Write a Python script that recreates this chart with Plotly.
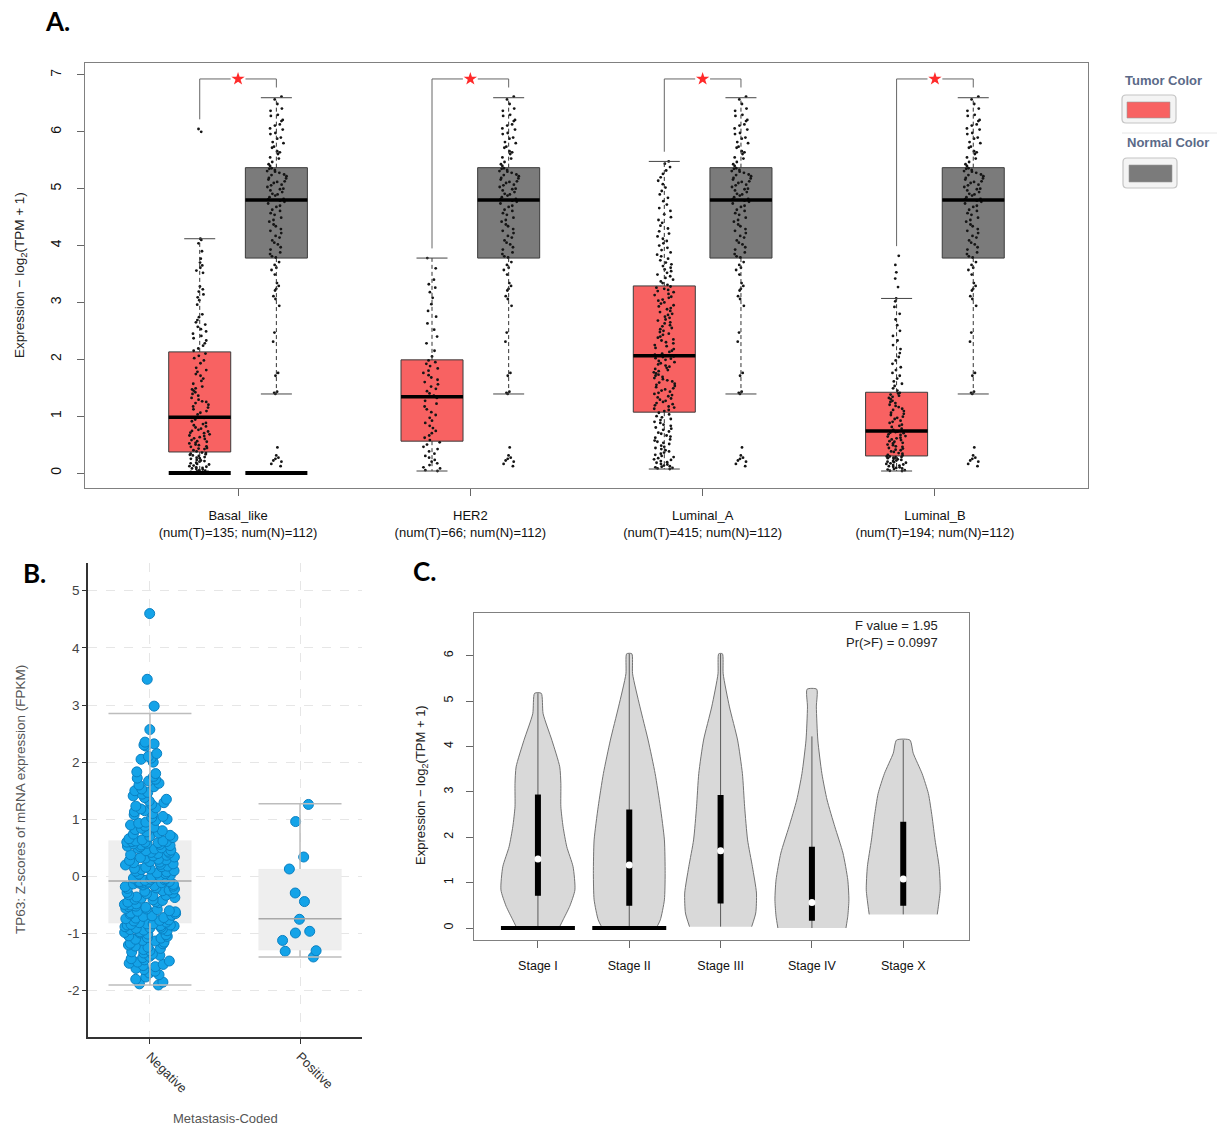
import plotly.graph_objects as go

W, H = 1217, 1126
FONT = "Liberation Sans, Arial, Helvetica, sans-serif"

# ---------------- Panel A data (GEPIA box plot) ----------------
subtypes = ["Basal_like", "HER2", "Luminal_A", "Luminal_B"]
num_tumor = [135, 66, 415, 194]
num_normal = [112, 112, 112, 112]
tumor_q1 = [0.37, 0.56, 1.07, 0.30]
tumor_median = [0.98, 1.34, 2.06, 0.74]
tumor_q3 = [2.13, 1.99, 3.29, 1.42]
tumor_whisker_low = [0.00, 0.035, 0.07, 0.035]
tumor_whisker_high = [4.12, 3.78, 5.48, 3.07]
normal_q1 = 3.78
normal_median = 4.80
normal_q3 = 5.37
normal_whisker_low = 1.39
normal_whisker_high = 6.60
zero_bar_subtypes = ["Basal_like"]
significant = ["*", "*", "*", "*"]

basal_tumor = [0.00, 0.01, 0.02, 0.02, 0.03, 0.04, 0.05, 0.06, 0.07, 0.08, 0.09, 0.10, 0.11, 0.12,
               0.13, 0.15, 0.16, 0.17, 0.18, 0.20, 0.21, 0.22, 0.23, 0.25, 0.26, 0.27, 0.28, 0.30,
               0.31, 0.32, 0.33, 0.34, 0.35, 0.36, 0.38, 0.40, 0.42, 0.43, 0.44, 0.46, 0.47, 0.49,
               0.50, 0.52, 0.53, 0.55, 0.56, 0.58, 0.60, 0.61, 0.63, 0.65, 0.66, 0.68, 0.70, 0.71,
               0.73, 0.74, 0.76, 0.78, 0.80, 0.82, 0.84, 0.86, 0.88, 0.91, 0.94, 0.97, 1.03, 1.06,
               1.09, 1.12, 1.15, 1.17, 1.20, 1.23, 1.25, 1.26, 1.29, 1.32, 1.36, 1.39, 1.42, 1.45,
               1.47, 1.49, 1.52, 1.57, 1.62, 1.66, 1.71, 1.74, 1.78, 1.81, 1.85, 1.93, 1.98, 2.02,
               2.06, 2.10, 2.15, 2.19, 2.24, 2.28, 2.33, 2.37, 2.41, 2.45, 2.49, 2.53, 2.57, 2.61,
               2.65, 2.69, 2.74, 2.79, 2.96, 3.04, 3.09, 3.14, 3.19, 3.23, 3.28, 3.52, 3.56, 3.61,
               3.65, 3.70, 3.77, 3.90, 4.04, 4.10, 4.12, 6.00, 6.05]
her2_tumor = [0.035, 0.05, 0.08, 0.10, 0.14, 0.17, 0.20, 0.23, 0.27, 0.30, 0.34, 0.38, 0.42, 0.46,
              0.50, 0.54, 0.58, 0.62, 0.66, 0.70, 0.74, 0.79, 0.83, 0.88, 0.92, 0.97, 1.02, 1.07,
              1.12, 1.17, 1.22, 1.27, 1.32, 1.36, 1.40, 1.44, 1.48, 1.52, 1.56, 1.60, 1.64, 1.68,
              1.72, 1.76, 1.80, 1.84, 1.88, 1.92, 1.95, 1.98, 2.05, 2.15, 2.28, 2.40, 2.52, 2.63,
              2.75, 2.85, 2.97, 3.08, 3.18, 3.26, 3.32, 3.40, 3.60, 3.78]
luma_tumor = [0.07, 0.08, 0.09, 0.10, 0.11, 0.12, 0.13, 0.15, 0.16, 0.18, 0.19, 0.21, 0.23, 0.24,
              0.26, 0.28, 0.30, 0.32, 0.34, 0.36, 0.38, 0.40, 0.42, 0.44, 0.46, 0.48, 0.51, 0.53,
              0.55, 0.57, 0.59, 0.62, 0.64, 0.66, 0.69, 0.71, 0.73, 0.76, 0.78, 0.80, 0.83, 0.85,
              0.88, 0.90, 0.93, 0.95, 0.98, 1.00, 1.03, 1.06,
              1.09, 1.11, 1.13, 1.15, 1.17, 1.19, 1.21, 1.23, 1.25, 1.27, 1.29, 1.31, 1.33, 1.35,
              1.37, 1.39, 1.41, 1.43, 1.45, 1.47, 1.49, 1.51, 1.53, 1.55, 1.57, 1.59, 1.61, 1.63,
              1.65, 1.67, 1.69, 1.71, 1.73, 1.75, 1.77, 1.79, 1.81, 1.83, 1.85, 1.87, 1.89, 1.91,
              1.93, 1.95, 1.97, 1.99, 2.01, 2.02, 2.04, 2.05,
              2.08, 2.10, 2.13, 2.15, 2.18, 2.20, 2.23, 2.25, 2.28, 2.30, 2.33, 2.35, 2.38, 2.40,
              2.43, 2.45, 2.48, 2.50, 2.53, 2.55, 2.58, 2.60, 2.63, 2.65, 2.68, 2.70, 2.73, 2.75,
              2.78, 2.80, 2.83, 2.85, 2.88, 2.90, 2.93, 2.95, 2.98, 3.00, 3.03, 3.05, 3.08, 3.10,
              3.13, 3.15, 3.18, 3.20, 3.22, 3.24, 3.26, 3.28,
              3.31, 3.34, 3.37, 3.40, 3.43, 3.46, 3.49, 3.52, 3.55, 3.58, 3.61, 3.64, 3.67, 3.70,
              3.74, 3.77, 3.81, 3.84, 3.88, 3.92, 3.96, 4.00, 4.04, 4.08, 4.12, 4.16, 4.21, 4.25,
              4.30, 4.35, 4.40, 4.45, 4.50, 4.55, 4.61, 4.66, 4.72, 4.78, 4.84, 4.90, 4.96, 5.02,
              5.08, 5.14, 5.20, 5.26, 5.32, 5.38, 5.44, 5.48]
lumb_tumor = [0.035, 0.04, 0.05, 0.06, 0.07, 0.08, 0.09, 0.10, 0.11, 0.12, 0.13, 0.14, 0.15, 0.16,
              0.17, 0.18, 0.19, 0.20, 0.21, 0.22, 0.23, 0.24, 0.25, 0.26, 0.26, 0.27, 0.28, 0.28,
              0.29, 0.29, 0.31, 0.32, 0.34, 0.35, 0.37, 0.38, 0.40, 0.41, 0.43, 0.44, 0.46, 0.47,
              0.49, 0.50, 0.52, 0.53, 0.55, 0.56, 0.58, 0.59, 0.61, 0.62, 0.64, 0.65, 0.67, 0.68,
              0.70, 0.71, 0.72, 0.73, 0.76, 0.78, 0.81, 0.83, 0.85, 0.88, 0.90, 0.92, 0.95, 0.97,
              0.99, 1.02, 1.04, 1.06, 1.09, 1.11, 1.13, 1.16, 1.18, 1.20, 1.23, 1.25, 1.27, 1.30,
              1.32, 1.34, 1.36, 1.38, 1.40, 1.41, 1.45, 1.49, 1.53, 1.57, 1.61, 1.66, 1.71, 1.76,
              1.81, 1.86, 1.92, 1.98, 2.04, 2.11, 2.18, 2.25, 2.33, 2.41, 2.50, 2.60, 2.70, 2.80,
              2.92, 3.02, 3.07, 3.27, 3.42, 3.53, 3.66, 3.82]
normal_points = [0.12, 0.16, 0.20, 0.22, 0.25, 0.27, 0.31, 0.45, 1.39, 1.41, 1.43, 1.71, 1.76,
                 2.31, 2.47, 2.94, 3.06, 3.11, 3.21, 3.24, 3.29, 3.34, 3.49, 3.57, 3.61, 3.66, 3.71,
                 3.79, 3.81, 3.85, 3.88, 3.93, 3.97, 4.02, 4.05, 4.09, 4.14, 4.17, 4.22, 4.26, 4.29,
                 4.34, 4.37, 4.42, 4.45, 4.49, 4.54, 4.57, 4.61, 4.63, 4.68, 4.70, 4.74, 4.77, 4.79,
                 4.81, 4.82, 4.85, 4.88, 4.90, 4.91, 4.94, 4.97, 4.99, 5.00, 5.03, 5.06, 5.07, 5.10,
                 5.12, 5.13, 5.16, 5.18, 5.19, 5.22, 5.24, 5.25, 5.28, 5.30, 5.31, 5.33, 5.35, 5.36,
                 5.40, 5.43, 5.47, 5.53, 5.55, 5.61, 5.64, 5.66, 5.72, 5.74, 5.80, 5.82, 5.88, 5.90,
                 5.96, 5.98, 6.04, 6.06, 6.11, 6.13, 6.19, 6.21, 6.28, 6.30, 6.37, 6.41, 6.49, 6.57,
                 6.62]

# ---------------- Panel B data (cBioPortal) ----------------
meta_groups = ["Negative", "Positive"]
meta_q1 = [-0.82, -1.29]
meta_median = [-0.08, -0.74]
meta_q3 = [0.63, 0.13]
meta_whisker_low = [-1.90, -1.41]
meta_whisker_high = [2.85, 1.27]
z_ticks = [-2, -1, 0, 1, 2, 3, 4, 5]
z_tick_labels = ["-2", "-1", "0", "1", "2", "3", "4", "5"]
negative_z = [-1.90, -1.88, -1.85, -1.80, -1.76, -1.72, -1.69, -1.66, -1.63, -1.61, -1.58, -1.56,
              -1.54, -1.52, -1.50, -1.48, -1.46, -1.44, -1.42, -1.40, -1.38, -1.36, -1.34, -1.32,
              -1.30, -1.28, -1.26, -1.24, -1.22, -1.20, -1.18, -1.17, -1.15, -1.13, -1.12, -1.10,
              -1.08, -1.07, -1.05, -1.04, -1.02, -1.01, -0.99, -0.98, -0.97, -0.95, -0.94, -0.93,
              -0.92, -0.91, -0.90, -0.89, -0.88, -0.87, -0.86, -0.85, -0.85, -0.84, -0.83, -0.83,
              -0.81, -0.80, -0.78, -0.77, -0.76, -0.74, -0.73, -0.72, -0.70, -0.69, -0.68, -0.66,
              -0.65, -0.64, -0.62, -0.61, -0.60, -0.58, -0.57, -0.56, -0.54, -0.53, -0.52, -0.50,
              -0.49, -0.48, -0.46, -0.45, -0.44, -0.42, -0.41, -0.40, -0.38, -0.37, -0.36, -0.34,
              -0.33, -0.32, -0.30, -0.29, -0.28, -0.26, -0.25, -0.24, -0.22, -0.21, -0.20, -0.18,
              -0.17, -0.16, -0.15, -0.14, -0.13, -0.12, -0.12, -0.11, -0.10, -0.10, -0.09, -0.09,
              -0.07, -0.06, -0.05, -0.04, -0.03, -0.02, -0.01, 0.00, 0.01, 0.02, 0.04, 0.05,
              0.06, 0.08, 0.09, 0.10, 0.12, 0.13, 0.14, 0.16, 0.17, 0.18, 0.20, 0.21,
              0.22, 0.24, 0.25, 0.26, 0.28, 0.29, 0.30, 0.32, 0.33, 0.34, 0.36, 0.37,
              0.38, 0.40, 0.41, 0.42, 0.44, 0.45, 0.46, 0.48, 0.49, 0.50, 0.52, 0.53,
              0.54, 0.55, 0.56, 0.57, 0.58, 0.59, 0.60, 0.60, 0.61, 0.61, 0.62, 0.62,
              0.64, 0.66, 0.68, 0.70, 0.72, 0.74, 0.76, 0.78, 0.80, 0.82, 0.84, 0.86,
              0.88, 0.90, 0.93, 0.95, 0.98, 1.00, 1.03, 1.05, 1.08, 1.10, 1.13, 1.15,
              1.18, 1.20, 1.23, 1.26, 1.29, 1.32, 1.35, 1.38, 1.41, 1.44, 1.47, 1.50,
              1.53, 1.57, 1.60, 1.63, 1.67, 1.70, 1.72, 1.75, 1.80, 1.83, 2.00, 2.05,
              2.07, 2.10, 2.15, 2.28, 2.30, 2.32, 2.35, 2.57, 2.98, 3.45, 4.60]
positive_z = [1.26, 0.96, 0.34, 0.13, -0.29, -0.44, -0.75, -0.99, -0.96, -1.12, -1.31, -1.30, -1.41]

# ---------------- Panel C data (GEPIA stage violin) ----------------
stages = ["Stage I", "Stage II", "Stage III", "Stage IV", "Stage X"]
stage_min = [0.00, 0.00, 0.03, 0.00, 0.30]
stage_max = [5.17, 6.04, 6.04, 4.22, 4.14]
stage_q1 = [0.71, 0.49, 0.54, 0.16, 0.49]
stage_median = [1.52, 1.39, 1.70, 0.56, 1.08]
stage_q3 = [2.94, 2.61, 2.93, 1.79, 2.34]
zero_bar_stages = ["Stage I", "Stage II"]
# kernel density outlines (relative density, 1 = widest)
stage1_levels = [0.00, 0.18, 0.48, 0.84, 1.35, 1.79, 2.23, 2.67, 3.18, 3.55, 4.13, 4.72, 5.17]
stage1_density = [0.57, 0.68, 0.86, 1.00, 0.95, 0.78, 0.68, 0.62, 0.62, 0.59, 0.38, 0.14, 0.09]
stage2_levels = [0.00, 0.18, 0.62, 1.20, 1.94, 2.67, 3.40, 4.14, 4.87, 5.60, 6.04]
stage2_density = [0.73, 0.84, 0.95, 0.97, 0.95, 0.84, 0.70, 0.51, 0.29, 0.09, 0.07]
stage3_levels = [0.03, 0.33, 0.77, 1.35, 1.94, 2.67, 3.40, 4.14, 4.87, 5.60, 6.04]
stage3_density = [0.84, 0.95, 0.97, 0.86, 0.73, 0.65, 0.59, 0.46, 0.24, 0.07, 0.05]
stage4_levels = [0.00, 0.26, 0.62, 1.06, 1.65, 2.23, 2.82, 3.40, 4.14, 4.87, 5.26]
stage4_density = [0.92, 0.97, 1.00, 0.97, 0.84, 0.62, 0.41, 0.27, 0.16, 0.12, 0.13]
stage5_levels = [0.30, 0.48, 0.84, 1.35, 1.94, 2.45, 2.96, 3.40, 3.85, 4.14]
stage5_density = [0.92, 0.95, 1.00, 0.97, 0.86, 0.78, 0.68, 0.51, 0.27, 0.18]
f_value = 1.95
p_value = 0.0997

# ---------------- helpers ----------------
def pxx(p):
    return p / W


def pxy(p):
    return 1 - p / H


fig = go.Figure()


def seg(xs, ys, color, width, ax, dash=None):
    fig.add_trace(go.Scatter(x=xs, y=ys, mode="lines", xaxis=ax[0], yaxis=ax[1],
                             line=dict(color=color, width=width, dash=dash),
                             hoverinfo="skip", showlegend=False))


TUMOR_COLOR = "#f86262"
NORMAL_COLOR = "#7b7b7b"
A = ("x", "y")
B = ("x2", "y2")
C = ("x3", "y3")

# ---------------- Panel A ----------------
offset = 0.165
bw = 0.267
tumor_lists = [basal_tumor, her2_tumor, luma_tumor, lumb_tumor]
all_max = max(max(max(t) for t in tumor_lists), max(normal_points))
bracket_top = all_max + 0.31

for i, name in enumerate(subtypes):
    groups = [
        (i - offset, TUMOR_COLOR, tumor_q1[i], tumor_median[i], tumor_q3[i],
         tumor_whisker_low[i], tumor_whisker_high[i], tumor_lists[i]),
        (i + offset, NORMAL_COLOR, normal_q1, normal_median, normal_q3,
         normal_whisker_low, normal_whisker_high, normal_points),
    ]
    for (xc, col, q1, med, q3, wlo, whi, pts) in groups:
        fig.add_trace(go.Box(x=[xc], q1=[q1], median=[med], q3=[q3], lowerfence=[q1],
                             upperfence=[q3], width=bw, fillcolor=col, whiskerwidth=0,
                             line=dict(color="#3c3c3c", width=1), xaxis="x", yaxis="y",
                             boxpoints=False, hoverinfo="skip", showlegend=False))
        seg([xc, xc, None, xc, xc], [q3, whi, None, q1, wlo], "#333333", 1, A, dash="4px,3px")
        cap = bw / 4
        seg([xc - cap, xc + cap, None, xc - cap, xc + cap], [whi, whi, None, wlo, wlo],
            "#444444", 1, A)
        seg([xc - bw / 2, xc + bw / 2], [med, med], "#000000", 3.5, A)
        if name in zero_bar_subtypes:
            seg([xc - bw / 2, xc + bw / 2], [0, 0], "#000000", 4, A)
        fig.add_trace(go.Box(y=pts, x0=xc, width=bw, boxpoints="all", jitter=0.34, pointpos=0,
                             fillcolor="rgba(0,0,0,0)", line=dict(color="rgba(0,0,0,0)", width=0),
                             marker=dict(size=2.8, color="#151515"), xaxis="x", yaxis="y",
                             hoverinfo="skip", showlegend=False))
    # significance bracket
    tx, nx = i - offset, i + offset
    mid = (tx + nx) / 2
    gap = 0.032
    left_end = max(tumor_lists[i]) + 0.17
    right_end = max(normal_points) + 0.16
    seg([tx, tx, mid - gap, None, mid + gap, nx, nx],
        [left_end, bracket_top, bracket_top, None, bracket_top, bracket_top, right_end],
        "#666666", 1, A)
    fig.add_trace(go.Scatter(x=[mid], y=[bracket_top], mode="markers", xaxis="x", yaxis="y",
                             marker=dict(symbol="star", size=10, color="#ff2a2a"),
                             hoverinfo="skip", showlegend=False))

# ---------------- Panel B ----------------
bwB = 0.553
meta_lists = [negative_z, positive_z]
for i, g in enumerate(meta_groups):
    fig.add_trace(go.Box(x=[i], q1=[meta_q1[i]], median=[meta_median[i]], q3=[meta_q3[i]],
                         lowerfence=[meta_q1[i]], upperfence=[meta_q3[i]], width=bwB,
                         fillcolor="#eeeeee", line=dict(color="#eeeeee", width=0.1),
                         whiskerwidth=0, xaxis="x2", yaxis="y2", boxpoints=False,
                         hoverinfo="skip", showlegend=False))
    seg([i, i, None, i, i], [meta_q3[i], meta_whisker_high[i], None, meta_q1[i], meta_whisker_low[i]],
        "#bdbdbd", 1.5, B)
    seg([i - bwB / 2, i + bwB / 2, None, i - bwB / 2, i + bwB / 2],
        [meta_whisker_high[i], meta_whisker_high[i], None, meta_whisker_low[i], meta_whisker_low[i]],
        "#bdbdbd", 1.5, B)
    seg([i - bwB / 2, i + bwB / 2], [meta_median[i], meta_median[i]], "#a8a8a8", 1.5, B)
    fig.add_trace(go.Box(y=meta_lists[i], x0=i, width=bwB, boxpoints="all", jitter=0.62,
                         pointpos=0, fillcolor="rgba(0,0,0,0)",
                         line=dict(color="rgba(0,0,0,0)", width=0),
                         marker=dict(size=10, color="#14a3e8", line=dict(color="#0a80c2", width=1)),
                         xaxis="x2", yaxis="y2", hoverinfo="skip", showlegend=False))

# ---------------- Panel C ----------------
MAXW = 0.405
stage_levels = [stage1_levels, stage2_levels, stage3_levels, stage4_levels, stage5_levels]
stage_density = [stage1_density, stage2_density, stage3_density, stage4_density, stage5_density]
for i, s in enumerate(stages):
    lv, dn = stage_levels[i], stage_density[i]
    xs = [i + d * MAXW for d in dn] + [i - d * MAXW for d in reversed(dn)]
    ys = list(lv) + list(reversed(lv))
    fig.add_trace(go.Scatter(x=xs, y=ys, mode="lines", fill="toself", fillcolor="#d9d9d9",
                             line=dict(color="#737373", width=1, shape="spline", smoothing=0.6),
                             xaxis="x3", yaxis="y3", hoverinfo="skip", showlegend=False))
    seg([i, i], [stage_min[i], stage_max[i]], "#5a5a5a", 1, C)
    seg([i, i], [stage_q1[i], stage_q3[i]], "#000000", 6, C)
    if s in zero_bar_stages:
        seg([i - MAXW, i + MAXW], [0, 0], "#000000", 4, C)
    fig.add_trace(go.Scatter(x=[i], y=[stage_median[i]], mode="markers", xaxis="x3", yaxis="y3",
                             marker=dict(size=7, color="white"), hoverinfo="skip",
                             showlegend=False))

# ---------------- layout ----------------
frame = dict(showline=True, linecolor="#808080", linewidth=1, mirror=True, showgrid=False,
             zeroline=False, ticks="outside", ticklen=7, tickcolor="#666666",
             tickfont=dict(family=FONT, size=13, color="#111111"))

xA_text = [f"{s}<br>(num(T)={t}; num(N)={n})" for s, t, n in zip(subtypes, num_tumor, num_normal)]

layout = dict(
    width=W, height=H, autosize=False, margin=dict(l=0, r=0, t=0, b=0),
    paper_bgcolor="white", plot_bgcolor="white", boxmode="overlay",
    font=dict(family=FONT, size=13, color="#222222"),
    xaxis=dict(domain=[pxx(84.5), pxx(1088)], range=[-0.661, 3.659], tickvals=list(range(4)),
               ticktext=xA_text, anchor="y", ticklabelstandoff=8, **frame),
    yaxis=dict(domain=[pxy(488.3), pxy(62.7)], range=[-0.269, 7.216], tickvals=list(range(8)),
               tickangle=-90, anchor="x", ticklabelstandoff=10,
               **{**frame, "tickfont": dict(family=FONT, size=14, color="#111111")}),
    xaxis2=dict(domain=[pxx(88), pxx(362)], range=[-0.413, 1.413], tickvals=[0, 1],
                ticktext=meta_groups, tickangle=45, anchor="y2", showline=True,
                linecolor="#333333", linewidth=1.5, showgrid=True, gridcolor="#e6e6e6",
                griddash="dash", zeroline=False, ticks="outside", ticklen=5, tickcolor="#333333",
                tickfont=dict(family=FONT, size=13, color="#333333")),
    yaxis2=dict(domain=[pxy(1037), pxy(563)], range=[-2.81, 5.485], tickvals=z_ticks,
                ticktext=z_tick_labels,
                anchor="x2", showline=True, linecolor="#333333", linewidth=1.5, showgrid=True,
                gridcolor="#e6e6e6", griddash="dash", zeroline=False, ticks="outside", ticklen=4,
                tickcolor="#333333", tickfont=dict(family=FONT, size=13.5, color="#444444")),
    xaxis3=dict(domain=[pxx(474), pxx(969)], range=[-0.70, 4.72], tickvals=list(range(5)),
                ticktext=stages, anchor="y3", ticklabelstandoff=7,
                **{**frame, "tickfont": dict(family=FONT, size=12.5, color="#111111")}),
    yaxis3=dict(domain=[pxy(940), pxy(612.7)], range=[-0.264, 6.945], tickvals=list(range(7)),
                tickangle=-90, anchor="x3", ticklabelstandoff=8,
                **{**frame, "tickfont": dict(family=FONT, size=12.5, color="#111111")}),
)
fig.update_layout(**layout)

ann = []


def note(text, x, y, size=13, color="#222222", angle=0, xanchor="center", family=FONT):
    ann.append(dict(text=text, x=pxx(x), y=pxy(y), xref="paper", yref="paper", showarrow=False,
                    textangle=angle, xanchor=xanchor, yanchor="middle",
                    font=dict(family=family, size=size, color=color)))


ytitle = "Expression \u2212 log<sub>2</sub>(TPM + 1)"
note("<b>A.</b>", 58, 21, size=26, color="#000000", family="Lato, " + FONT)
note("<b>B.</b>", 34, 573, size=26, color="#000000", family="Lato, " + FONT)
note("<b>C.</b>", 424, 571, size=26, color="#000000", family="Lato, " + FONT)
note(ytitle, 20, 275, size=13.5, angle=-90)
note(ytitle, 422, 785, size=13, angle=-90)
note("TP63: Z-scores of mRNA expression (FPKM)", 20, 800, size=13.5, color="#555555", angle=-90)
note("Metastasis-Coded", 225, 1118, size=13, color="#555555")
note(f"F value = {f_value}", 940, 625, size=13, xanchor="right")
note(f"Pr(>F) = {p_value}", 940, 642, size=13, xanchor="right")
note("<b>Tumor Color</b>", 1163, 80, size=13, color="#5b6a88")
note("<b>Normal Color</b>", 1168, 142, size=13, color="#5b6a88")
fig.update_layout(annotations=ann)


def rrect(x0, y0, x1, y1, r):
    pts = [("M", x0 + r, y0), ("L", x1 - r, y0), ("Q", x1, y0, x1, y0 + r), ("L", x1, y1 - r),
           ("Q", x1, y1, x1 - r, y1), ("L", x0 + r, y1), ("Q", x0, y1, x0, y1 - r),
           ("L", x0, y0 + r), ("Q", x0, y0, x0 + r, y0)]
    out = []
    for p in pts:
        if p[0] == "Q":
            out.append(f"Q{pxx(p[1])},{pxy(p[2])} {pxx(p[3])},{pxy(p[4])}")
        else:
            out.append(f"{p[0]}{pxx(p[1])},{pxy(p[2])}")
    return " ".join(out) + " Z"


shapes = [
    dict(type="path", path=rrect(1122, 95, 1176, 123, 4), xref="paper", yref="paper",
         line=dict(color="#c4c4c4", width=1.2), fillcolor="#f4f4f4"),
    dict(type="rect", x0=pxx(1127), x1=pxx(1170), y0=pxy(118), y1=pxy(102), xref="paper",
         yref="paper", line=dict(color="#9a9a9a", width=0.6), fillcolor=TUMOR_COLOR),
    dict(type="line", x0=pxx(1122), x1=pxx(1217), y0=pxy(133), y1=pxy(133), xref="paper",
         yref="paper", line=dict(color="#e6e6e6", width=1)),
    dict(type="path", path=rrect(1123, 158, 1177, 188, 4), xref="paper", yref="paper",
         line=dict(color="#c4c4c4", width=1.2), fillcolor="#f4f4f4"),
    dict(type="rect", x0=pxx(1129), x1=pxx(1172), y0=pxy(182), y1=pxy(165), xref="paper",
         yref="paper", line=dict(color="#9a9a9a", width=0.6), fillcolor=NORMAL_COLOR),
]
fig.update_layout(shapes=shapes)

fig.write_html("out.html")
